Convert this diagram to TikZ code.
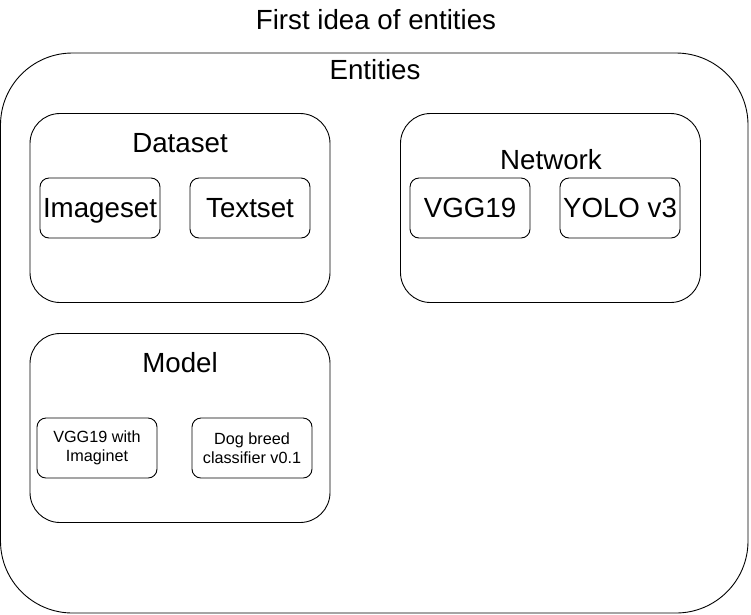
\documentclass[tikz,border=0pt]{standalone}
\usepackage{fontspec}
\setmainfont{Liberation Sans}
\begin{document}
\begin{tikzpicture}[x=1pt,y=-1pt,
  box/.style={draw=black,line width=0.9pt,rectangle,inner sep=0pt},
  bigbox/.style={box,rounded corners=72pt},
  groupbox/.style={box,rounded corners=30pt,minimum width=300pt,minimum height=189pt},
  itembox/.style={box,rounded corners=9pt,minimum width=120pt,minimum height=60pt},
  bigtext/.style={font=\fontsize{27.7}{32}\selectfont,inner sep=0pt,text height=19.8pt,text depth=0pt},
  smalltext/.style={font=\fontsize{16.2}{19}\selectfont,align=center}
]
\useasboundingbox (0,0) rectangle (751,614);
\node[bigtext] (title) at (376,20) {First idea of entities};
\node[bigbox,minimum width=747.5pt,minimum height=560pt] (entities) at (374.25,333) {};
\node[bigtext] (entitieslbl) at (375,70) {Entities};

\node[groupbox] (dataset) at (180,208) {};
\node[bigtext] (datasetlbl) at (180,143) {Dataset};
\node[itembox,bigtext] (imageset) at (100,208) {Imageset};
\node[itembox,bigtext] (textset) at (250,208) {Textset};

\node[groupbox,minimum width=300pt] (network) at (550.5,208) {};
\node[bigtext] (networklbl) at (551,160) {Network};
\node[itembox,bigtext] (vgg) at (470,208) {VGG19};
\node[itembox,bigtext] (yolo) at (620,208) {YOLO v3};

\node[groupbox] (model) at (180,428) {};
\node[bigtext] (modellbl) at (180,363) {Model};
\node[itembox,smalltext] (vggimg) at (97,448) {VGG19 with\\Imaginet};
\node[itembox,smalltext] (dog) at (252,448) {Dog breed\\classifier v0.1};
\end{tikzpicture}
\end{document}
